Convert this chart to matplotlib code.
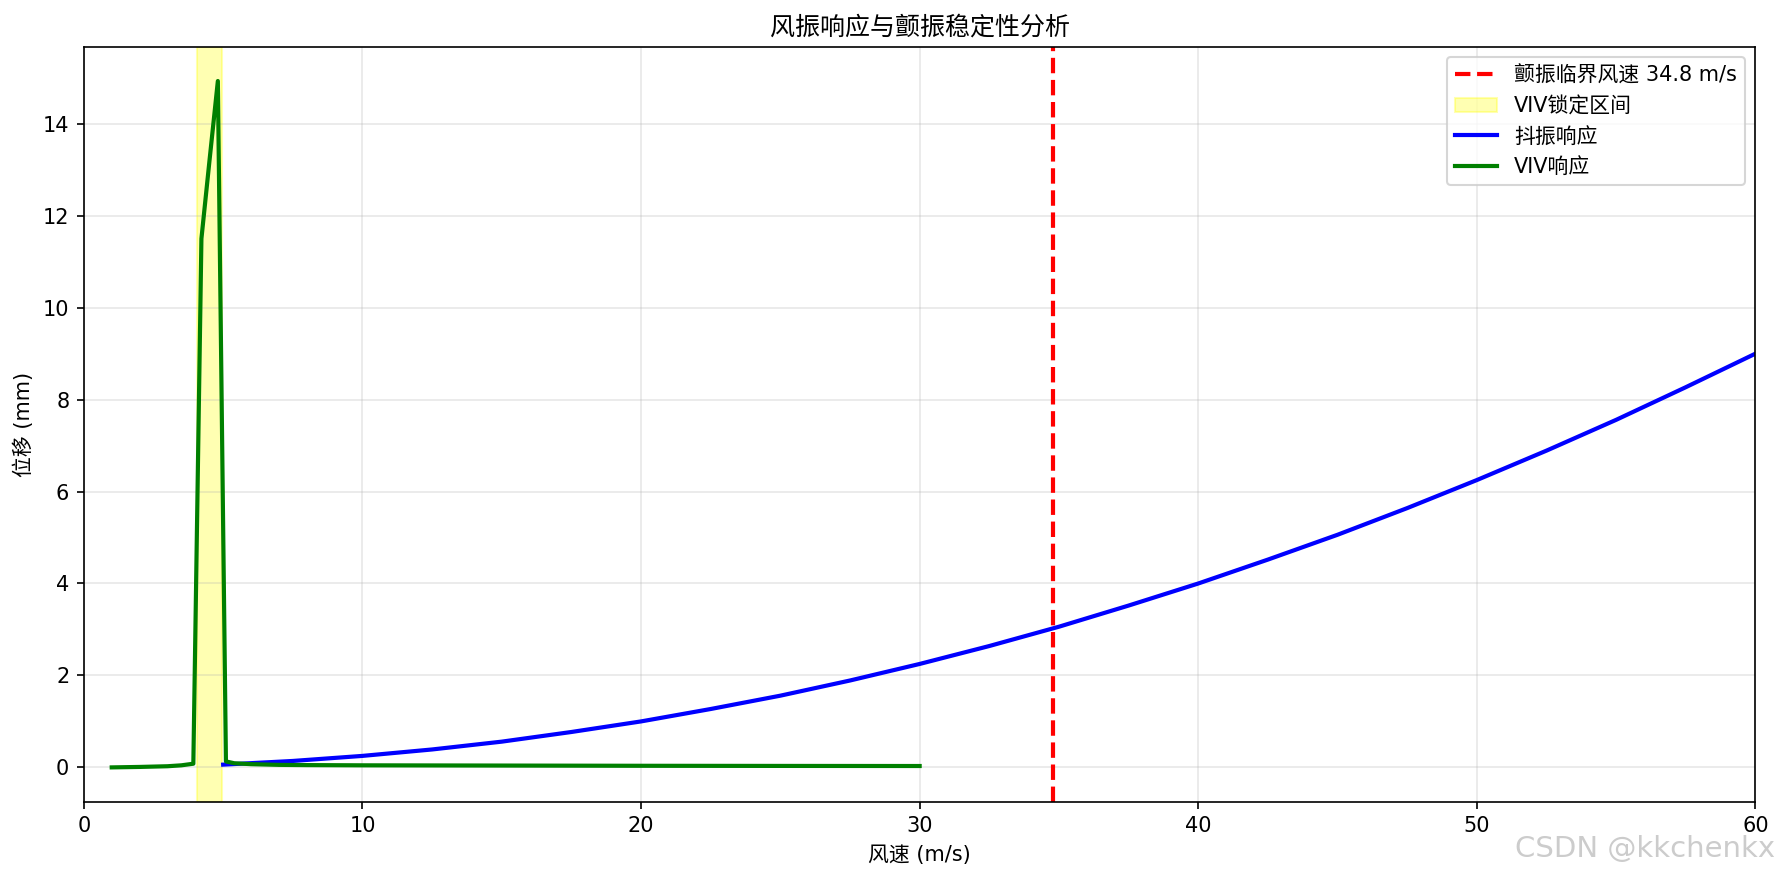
import matplotlib
matplotlib.use("Agg")
import matplotlib.pyplot as plt

plt.rcParams['font.family'] = ['DejaVu Sans', 'Noto Sans CJK SC']
plt.rcParams['axes.unicode_minus'] = False

# flutter critical speed and VIV lock-in range
flutter_speed = 34.8
viv_range = [4.05, 4.95]

# buffeting response (m/s, mm)
buffet_u = [5, 7.5, 10, 12.5, 15, 17.5, 20, 22.5, 25, 27.5, 30, 32.5, 35,
            37.5, 40, 42.5, 45, 47.5, 50, 52.5, 55, 57.5, 60]
buffet_amp = [0.06, 0.14, 0.25, 0.39, 0.56, 0.77, 1.0, 1.27, 1.56, 1.89, 2.25,
              2.64, 3.06, 3.52, 4.0, 4.52, 5.06, 5.64, 6.25, 6.89, 7.56, 8.27, 9.0]

# vortex induced vibration response (m/s, mm)
viv_u = [1, 2, 3, 3.5, 3.93, 4.22, 4.51, 4.81, 5.10, 5.4, 6, 7, 8, 10, 15, 20, 25, 30]
viv_amp = [0.0, 0.01, 0.025, 0.045, 0.08, 11.5, 13.2, 14.93, 0.13, 0.09, 0.07,
           0.055, 0.05, 0.045, 0.04, 0.035, 0.032, 0.03]

fig, ax = plt.subplots(figsize=(1784 / 150, 881 / 150), dpi=150)
fig.subplots_adjust(left=0.047, right=0.984, top=0.947, bottom=0.09)

ax.axvline(flutter_speed, color='red', linestyle='--', linewidth=2,
           label=f'颤振临界风速 {flutter_speed} m/s')
ax.axvspan(viv_range[0], viv_range[1], color='yellow', alpha=0.3, label='VIV锁定区间')
ax.plot(buffet_u, buffet_amp, color='blue', linewidth=2, label='抖振响应')
ax.plot(viv_u, viv_amp, color='green', linewidth=2, label='VIV响应')

ax.set_xlim(0, 60)
ax.set_xlabel('风速 (m/s)')
ax.set_ylabel('位移 (mm)')
ax.set_title('风振响应与颤振稳定性分析')
ax.grid(True, alpha=0.3)
ax.legend(loc='upper right')

fig.text(0.995, 0.02, 'CSDN @kkchenkx', ha='right', va='bottom',
         fontsize=14, color='#cccccc', family='DejaVu Sans')

plt.savefig('out.png', dpi=150)
